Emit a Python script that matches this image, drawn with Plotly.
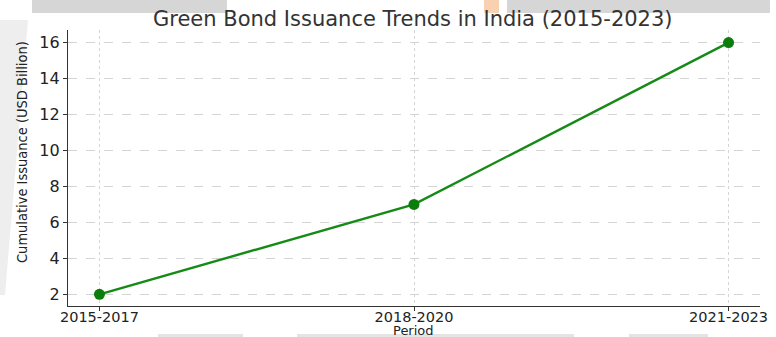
import plotly.graph_objects as go

periods = ["2015-2017", "2018-2020", "2021-2023"]
issuance = [2, 7, 16]
y_ticks = [2, 4, 6, 8, 10, 12, 14, 16]

W, H = 776, 337
ML, MR, MT, MB = 68, 16, 30, 31
PW, PH = W - ML - MR, H - MT - MB


def px(x):
    return (x - ML) / PW


def py(y):
    return 1 - (y - MT) / PH


fig = go.Figure()
fig.add_trace(go.Scatter(
    x=list(range(len(periods))), y=issuance, mode="lines+markers",
    line=dict(color="#168a16", width=2.4),
    marker=dict(color="#0a7d0a", size=11),
    hoverinfo="skip", showlegend=False, cliponaxis=False,
))


def rect(x0, x1, y0, y1, color):
    return dict(type="rect", xref="paper", yref="paper",
                x0=px(x0), x1=px(x1), y0=py(y1), y1=py(y0),
                fillcolor=color, line=dict(width=0), layer="below")


shapes = [
    rect(32, 227, 0, 13, "#d6d6d6"),
    rect(507, 770, 0, 13, "#d6d6d6"),
    rect(484, 499, 0, 13, "#f8d2b0"),
    rect(158, 243, 334, 337, "#e4e4e4"),
    rect(297, 574, 334, 337, "#e4e4e4"),
    rect(629, 708, 334, 337, "#e4e4e4"),
    dict(type="path", xref="paper", yref="paper",
         path=f"M {px(0)},{py(20)} L {px(28)},{py(20)} L {px(5)},{py(295)} L {px(0)},{py(295)} Z",
         fillcolor="#eeeeee", line=dict(width=0), layer="below"),
]

annotations = [
    dict(text="Green Bond Issuance Trends in India (2015-2023)",
         xref="paper", yref="paper", x=px(413), y=py(19),
         xanchor="center", yanchor="middle", showarrow=False,
         font=dict(family="DejaVu Sans", size=21, color="#333333")),
    dict(text="Period", xref="paper", yref="paper", x=px(413), y=py(330.5),
         xanchor="center", yanchor="middle", showarrow=False,
         font=dict(family="DejaVu Sans", size=13, color="#222222")),
    dict(text="Cumulative Issuance (USD Billion)", xref="paper", yref="paper",
         x=px(22), y=py(152), xanchor="center", yanchor="middle",
         textangle=-90, showarrow=False,
         font=dict(family="Liberation Sans Narrow, DejaVu Sans Condensed, DejaVu Sans",
                   size=14.5, color="#222222")),
]

fig.update_layout(
    width=W, height=H,
    margin=dict(l=ML, r=MR, t=MT, b=MB, autoexpand=False),
    paper_bgcolor="white", plot_bgcolor="white",
    font=dict(family="DejaVu Sans", size=16, color="#222222"),
    shapes=shapes, annotations=annotations,
    xaxis=dict(
        range=[-0.1, 2.1], automargin=False,
        tickmode="array", tickvals=list(range(len(periods))), ticktext=periods,
        showgrid=True, gridcolor="#d4d4d4", griddash="dot", gridwidth=1,
        showline=True, linecolor="#333333", linewidth=1.3,
        ticks="outside", ticklen=4, tickcolor="#333333",
        zeroline=False, tickfont=dict(size=14.5), ticklabelstandoff=-7,
    ),
    yaxis=dict(
        range=[1.35, 16.7], automargin=False,
        tickmode="array", tickvals=y_ticks,
        showgrid=True, gridcolor="#d4d4d4", griddash="dash", gridwidth=1,
        showline=True, linecolor="#333333", linewidth=1.3,
        ticks="outside", ticklen=4, tickcolor="#333333",
        zeroline=False, tickfont=dict(size=16),
    ),
)

fig.write_html("out.html", config={"displayModeBar": False},
               post_script="document.body.style.margin='0';document.body.style.overflow='hidden';")
